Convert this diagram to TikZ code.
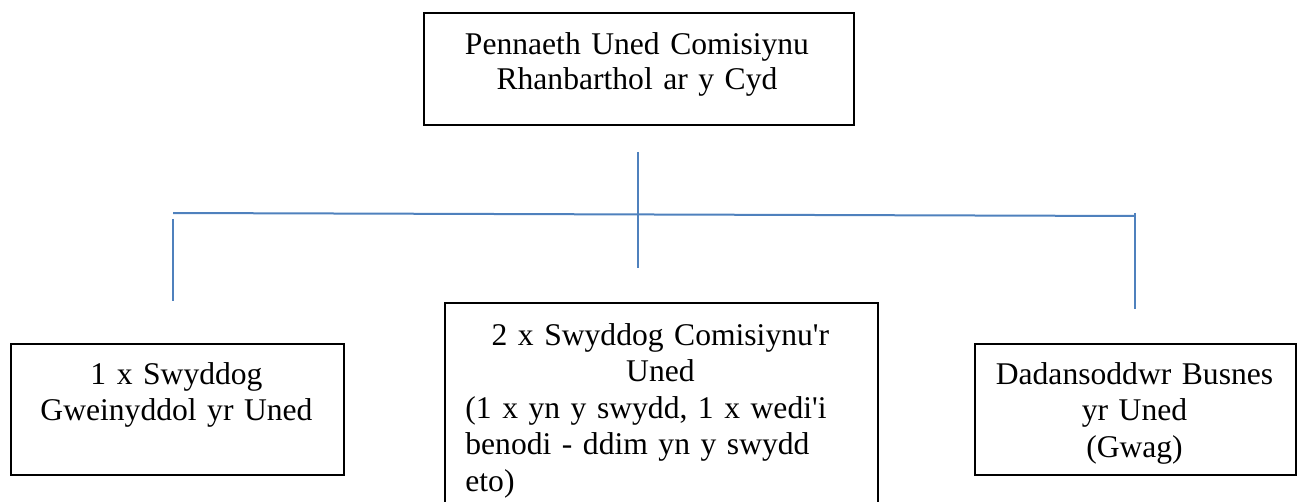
\documentclass[tikz,border=0pt]{standalone}
\usepackage{fontspec}
\setmainfont{Liberation Serif}
\definecolor{lineblue}{HTML}{4F81BD}
\begin{document}
\begin{tikzpicture}[x=0.5pt,y=-0.5pt,
  box/.style={draw=black,line width=0.8pt,inner sep=0pt,anchor=north west},
  conn/.style={draw=lineblue,line width=1pt},
  lbl/.style={inner sep=0pt,anchor=base,text width=#1,align=center,font=\fontsize{15.8}{18.25}\selectfont}]
\useasboundingbox (0,0) rectangle (1300,502);
% boxes
\node[box,minimum width=215pt,minimum height=56pt] (head) at (423,12) {};
\node[box,minimum width=166.5pt,minimum height=65.5pt] (admin) at (10,343) {};
\node[box,minimum width=216.5pt,minimum height=115pt] (officer) at (444,302) {};
\node[box,minimum width=160.5pt,minimum height=65.5pt] (analyst) at (974,343) {};
% texts
\node[lbl=205pt,font=\fontsize{15.8}{17.5}\selectfont] (headtxt) at (637,55) {Pennaeth Uned Comisiynu\\Rhanbarthol ar y Cyd};
\node[lbl=160pt] (admintxt) at (176.5,384) {1 x Swyddog\\Gweinyddol yr Uned};
\node[lbl=155pt] (analysttxt) at (1134.5,384) {Dadansoddwr Busnes\\yr Uned\\(Gwag)};
\node[inner sep=0pt,anchor=base west,text width=195pt,font=\fontsize{15.8}{18.25}\selectfont] (officertxt) at (465,345)
  {{\centering 2 x Swyddog Comisiynu\textquotesingle r\\Uned\par}(1 x yn y swydd, 1 x wedi\textquotesingle i\\benodi - ddim yn y swydd\\eto)};
% connectors
\coordinate (stemtop) at (638,152);
\coordinate (stembot) at (638,268);
\coordinate (barL) at (173,213);
\coordinate (barR) at (1135,216);
\coordinate (legLtop) at (173,219);
\coordinate (legLbot) at (173,301);
\coordinate (legRtop) at (1135,213);
\coordinate (legRbot) at (1135,309);
\draw[conn] (stemtop) -- (stembot);
\draw[conn] (barL) -- (barR);
\draw[conn] (legLtop) -- (legLbot);
\draw[conn] (legRtop) -- (legRbot);
\end{tikzpicture}
\end{document}
